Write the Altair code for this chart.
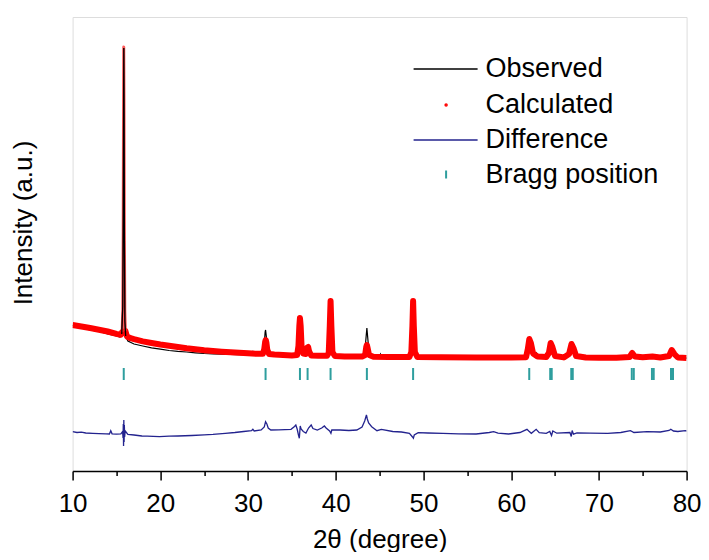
import altair as alt
import pandas as pd

# ---------------- data ----------------
# Observed pattern (2theta, intensity in arbitrary units)
TTH_OBS = [10.0, 11.0, 12.0, 13.0, 14.0, 15.0, 15.4, 15.6, 15.72, 15.78, 15.82, 15.84, 15.87, 15.91, 15.96,
           16.05, 16.3, 17.0, 18.0, 19.0, 20.0, 21.0, 22.0, 23.0, 24.0, 25.0, 26.0, 27.0, 28.0, 29.0, 30.0,
           30.45, 30.55, 30.65, 31.0, 31.7, 31.85, 31.95, 32.0, 32.08, 32.2, 32.45, 33.0, 34.0, 35.0, 35.6,
           35.75, 35.85, 35.92, 36.0, 36.1, 36.3, 36.7, 36.85, 37.0, 37.3, 38.0, 39.0, 39.2, 39.32, 39.41,
           39.5, 39.62, 39.9, 41.0, 42.0, 43.0, 43.3, 43.45, 43.55, 43.65, 43.8, 44.3, 45.0, 45.1, 45.2, 46.0,
           47.0, 48.4, 48.62, 48.74, 48.82, 48.9, 49.02, 49.3, 52.0, 55.0, 58.0, 60.0, 61.7, 61.9, 62.07, 62.25,
           62.5, 62.85, 63.0, 64.0, 64.3, 64.5, 64.7, 65.0, 66.0, 66.6, 66.88, 67.1, 67.4, 68.5, 70.0, 72.0,
           73.5, 73.8, 74.1, 75.0, 76.1, 77.0, 78.0, 78.3, 78.6, 79.0, 80.0]
INT_OBS = [1455, 1430, 1410, 1395, 1372, 1350, 1340, 1370, 1650, 2600, 3800, 4230, 3600, 2300, 1500,
           1350, 1300, 1270, 1250, 1232, 1218, 1205, 1196, 1190, 1182, 1175, 1172, 1168, 1166, 1163, 1162,
           1165, 1200, 1165, 1162, 1168, 1270, 1390, 1410, 1350, 1220, 1170, 1160, 1156, 1152, 1158,
           1260, 1460, 1530, 1440, 1240, 1165, 1175, 1200, 1170, 1150, 1148, 1150, 1185, 1460, 1710,
           1440, 1180, 1148, 1145, 1143, 1145, 1170, 1330, 1430, 1330, 1180, 1145, 1150, 1170, 1148, 1140,
           1138, 1139, 1185, 1460, 1700, 1440, 1180, 1138, 1136, 1130, 1128, 1131, 1140, 1240, 1330, 1270,
           1170, 1185, 1150, 1140, 1185, 1285, 1235, 1150, 1136, 1175, 1265, 1225, 1150, 1133, 1132, 1133,
           1140, 1180, 1145, 1137, 1142, 1134, 1152, 1212, 1168, 1133, 1128]

# Calculated pattern
TTH_CAL = [10.0, 11.0, 12.0, 13.0, 14.0, 15.0, 15.5, 15.65, 15.72, 15.77, 15.81, 15.83, 15.86, 15.9, 15.95,
           16.02, 16.2, 16.6, 17.0, 18.0, 19.0, 20.0, 21.0, 22.0, 23.0, 24.0, 25.0, 26.0, 27.0, 28.0, 29.0,
           30.0, 31.0, 31.7, 31.85, 31.95, 32.02, 32.1, 32.2, 32.4, 33.0, 34.0, 35.0, 35.6, 35.75, 35.85,
           35.92, 36.0, 36.1, 36.3, 36.6, 36.75, 36.85, 36.95, 37.2, 38.0, 39.0, 39.2, 39.32, 39.41, 39.5,
           39.62, 39.9, 41.0, 42.0, 43.0, 43.35, 43.48, 43.55, 43.63, 43.8, 44.3, 46.0, 47.0, 48.4, 48.62,
           48.74, 48.82, 48.9, 49.02, 49.3, 52.0, 56.0, 60.0, 61.7, 61.9, 62.07, 62.25, 62.5, 63.0, 64.0,
           64.3, 64.5, 64.7, 65.0, 66.0, 66.6, 66.88, 67.1, 67.4, 68.5, 70.0, 72.0, 73.5, 73.8, 74.1, 75.0,
           76.1, 77.0, 78.0, 78.3, 78.6, 79.0, 80.0]
INT_CAL = [1460, 1445, 1430, 1413, 1395, 1372, 1362, 1390, 1600, 2400, 3700, 4240, 3700, 2400, 1600,
           1400, 1345, 1328, 1318, 1296, 1280, 1265, 1252, 1240, 1228, 1218, 1208, 1200, 1193, 1187, 1182,
           1177, 1172, 1172, 1220, 1290, 1310, 1280, 1210, 1170, 1165, 1160, 1156, 1160, 1250, 1450,
           1530, 1450, 1250, 1175, 1170, 1235, 1240, 1200, 1155, 1152, 1152, 1180, 1450, 1700, 1450,
           1190, 1150, 1146, 1144, 1144, 1160, 1240, 1260, 1230, 1160, 1143, 1141, 1140, 1140, 1190,
           1450, 1700, 1450, 1190, 1140, 1138, 1136, 1136, 1138, 1220, 1320, 1280, 1175, 1145, 1140,
           1180, 1280, 1240, 1150, 1136, 1170, 1270, 1230, 1150, 1135, 1133, 1133, 1140, 1180, 1145, 1138,
           1145, 1135, 1150, 1210, 1170, 1135, 1130]

# Difference curve
TTH_DIF = [10.0, 10.5, 11.0, 11.5, 12.3, 13.0, 13.8, 14.2, 14.35, 14.5, 15.0, 15.5, 15.7, 15.75, 15.78,
           15.81, 15.84, 15.87, 15.9, 15.93, 16.0, 16.3, 17.0, 17.9, 18.5, 19.9, 21.0, 22.0, 23.6, 25.0,
           26.0, 27.4, 28.5, 29.5, 30.4, 30.55, 30.7, 31.5, 31.85, 32.0, 32.15, 32.3, 32.6, 33.5, 34.9,
           35.3, 35.45, 35.6, 35.75, 35.85, 35.95, 36.05, 36.3, 36.6, 36.9, 37.2, 37.4, 37.9, 38.4, 38.7,
           38.9, 39.3, 39.45, 39.55, 40.5, 41.5, 42.4, 43.0, 43.3, 43.5, 43.6, 43.75, 44.1, 44.7, 45.2,
           46.5, 47.5, 48.4, 48.75, 48.85, 48.95, 49.4, 50.5, 52.2, 54.0, 56.0, 57.5, 58.0, 58.5, 59.7,
           61.0, 61.8, 62.0, 62.3, 62.85, 63.2, 64.0, 64.4, 64.6, 64.75, 65.2, 66.7, 66.85, 66.95, 67.1,
           67.5, 69.0, 71.0, 72.5, 73.6, 74.0, 75.5, 77.0, 78.0, 78.2, 78.5, 79.0, 79.85, 80.0]
INT_DIF = [393, 385, 388, 380, 377, 374, 372, 370, 403, 372, 368, 372, 395, 330, 470,
           250, 510, 290, 460, 340, 400, 365, 360, 350, 348, 343, 348, 350, 355, 362,
           366, 377, 385, 395, 403, 418, 400, 410, 440, 493, 470, 430, 410, 412, 417,
           445, 460, 420, 360, 327, 450, 420, 395, 380, 430, 460, 425, 410, 430, 450,
           430, 400, 377, 410, 410, 405, 410, 440, 500, 560, 520, 480, 443, 403, 417,
           395, 390, 377, 340, 327, 360, 383, 380, 377, 372, 370, 385, 393, 378, 370,
           385, 417, 400, 377, 417, 383, 377, 395, 355, 400, 378, 385, 345, 405, 368,
           380, 378, 377, 385, 403, 385, 393, 390, 405, 417, 400, 395, 403, 400]

# Bragg reflection positions
BRAGG_POS = [15.83, 32.0, 35.92, 36.79, 39.41, 43.55, 48.82, 62.06, 64.45, 64.62, 66.85, 67.02,
             73.75, 73.98, 76.05, 76.25, 78.22, 78.45]
BRAGG_Y = [910, 1030]   # vertical extent of the Bragg markers (intensity units)

SERIES = ["Observed", "Calculated", "Difference", "Bragg position"]
COLORS = ["#000000", "#ff0000", "#23238e", "#2e9e9e"]

obs = pd.DataFrame({"tth": TTH_OBS, "I": INT_OBS, "series": SERIES[0]})
cal = pd.DataFrame({"tth": TTH_CAL, "I": INT_CAL, "series": SERIES[1]})
dif = pd.DataFrame({"tth": TTH_DIF, "I": INT_DIF, "series": SERIES[2]})
brg = pd.DataFrame({"tth": BRAGG_POS, "series": SERIES[3]})

FONT = "Liberation Sans"

x_enc = alt.X(
    "tth:Q",
    title="2θ (degree)",
    scale=alt.Scale(domain=[10, 80], nice=False, zero=False),
    axis=alt.Axis(
        values=list(range(10, 81, 5)),
        labelExpr="datum.value % 10 === 0 ? datum.label : ''",
        tickSize={"condition": {"test": "datum.value % 10 === 0", "value": 9}, "value": 4.5},
        tickColor="black", tickWidth=1.5,
        domainColor="black", domainWidth=1.5,
        labelFont=FONT, labelFontSize=26, labelColor="black", labelPadding=10,
        labelFlush=False, labelOverlap=False, grid=False,
        titleFont=FONT, titleFontSize=26, titleFontWeight="normal", titleColor="black",
        titleBaseline="alphabetic", titleY=76,
    ),
)
y_enc = alt.Y(
    "I:Q",
    title="Intensity (a.u.)",
    scale=alt.Scale(domain=[0, 4540], nice=False, zero=False),
    axis=alt.Axis(
        labels=False, ticks=False, domain=False, grid=False,
        titleFont=FONT, titleFontSize=26, titleFontWeight="normal", titleColor="black",
        titleBaseline="alphabetic", titleX=-41, titleY=205.5, titleAngle=270,
    ),
)


def leg(x, y, stype, size, sw, offset):
    return alt.Legend(title=None, orient="none", legendX=x, legendY=y, padding=0,
                      symbolType=stype, symbolSize=size, symbolStrokeWidth=sw,
                      labelFont=FONT, labelFontSize=27, labelColor="black",
                      labelOffset=offset, labelLimit=400)


def col(i, legend):
    return alt.Color("series:N", scale=alt.Scale(domain=[SERIES[i]], range=[COLORS[i]]), legend=legend)


observed = alt.Chart(obs).mark_line(strokeWidth=1.2, clip=True).encode(
    x=x_enc, y=y_enc, color=col(0, leg(340, 19, "stroke", 4096, 1.5, 7)))

# thick red band for the calculated profile, thin red trace on the very narrow main reflection
calculated = alt.Chart(cal).transform_filter(
    "datum.tth < 15.7 || datum.tth > 15.97").mark_line(
    strokeWidth=6, strokeJoin="round", strokeCap="butt", clip=True).encode(
    x=x_enc, y=y_enc, color=col(1, leg(360, 74.5, "circle", 4, 1.5, 26)))

calc_peak = alt.Chart(cal).transform_filter(
    "datum.tth > 15.6 && datum.tth < 16.05").mark_line(
    strokeWidth=3, color="#ff3030", opacity=0.8, strokeJoin="round").encode(
    x=x_enc, y=y_enc)

peak_overlay = alt.Chart(obs).transform_filter(
    "datum.tth > 15.5 && datum.tth < 16.2").mark_line(strokeWidth=1.3, color="black").encode(
    x=x_enc, y=y_enc)

difference = alt.Chart(dif).mark_line(strokeWidth=1.3, clip=True).encode(
    x=x_enc, y=y_enc, color=col(2, leg(340, 90, "stroke", 4096, 1.5, 7)))

bragg = alt.Chart(brg).mark_rule(strokeWidth=2).encode(
    x=x_enc, y=alt.datum(BRAGG_Y[0]), y2=alt.datum(BRAGG_Y[1]),
    color=col(3, leg(360, 144, "M0,-1V1", 64, 2, 26)))

chart = alt.layer(observed, calculated, calc_peak, peak_overlay, difference, bragg).resolve_scale(
    color="independent"
).properties(
    width=614,
    height=454,
    padding={"left": 64.6, "top": 9, "right": 14.4, "bottom": 81},
    autosize=alt.AutoSizeParams(type="none"),
).configure_view(stroke="black", strokeWidth=1.5).configure(background="white")

chart.save("out.html", embed_options={"renderer": "svg", "actions": False})
